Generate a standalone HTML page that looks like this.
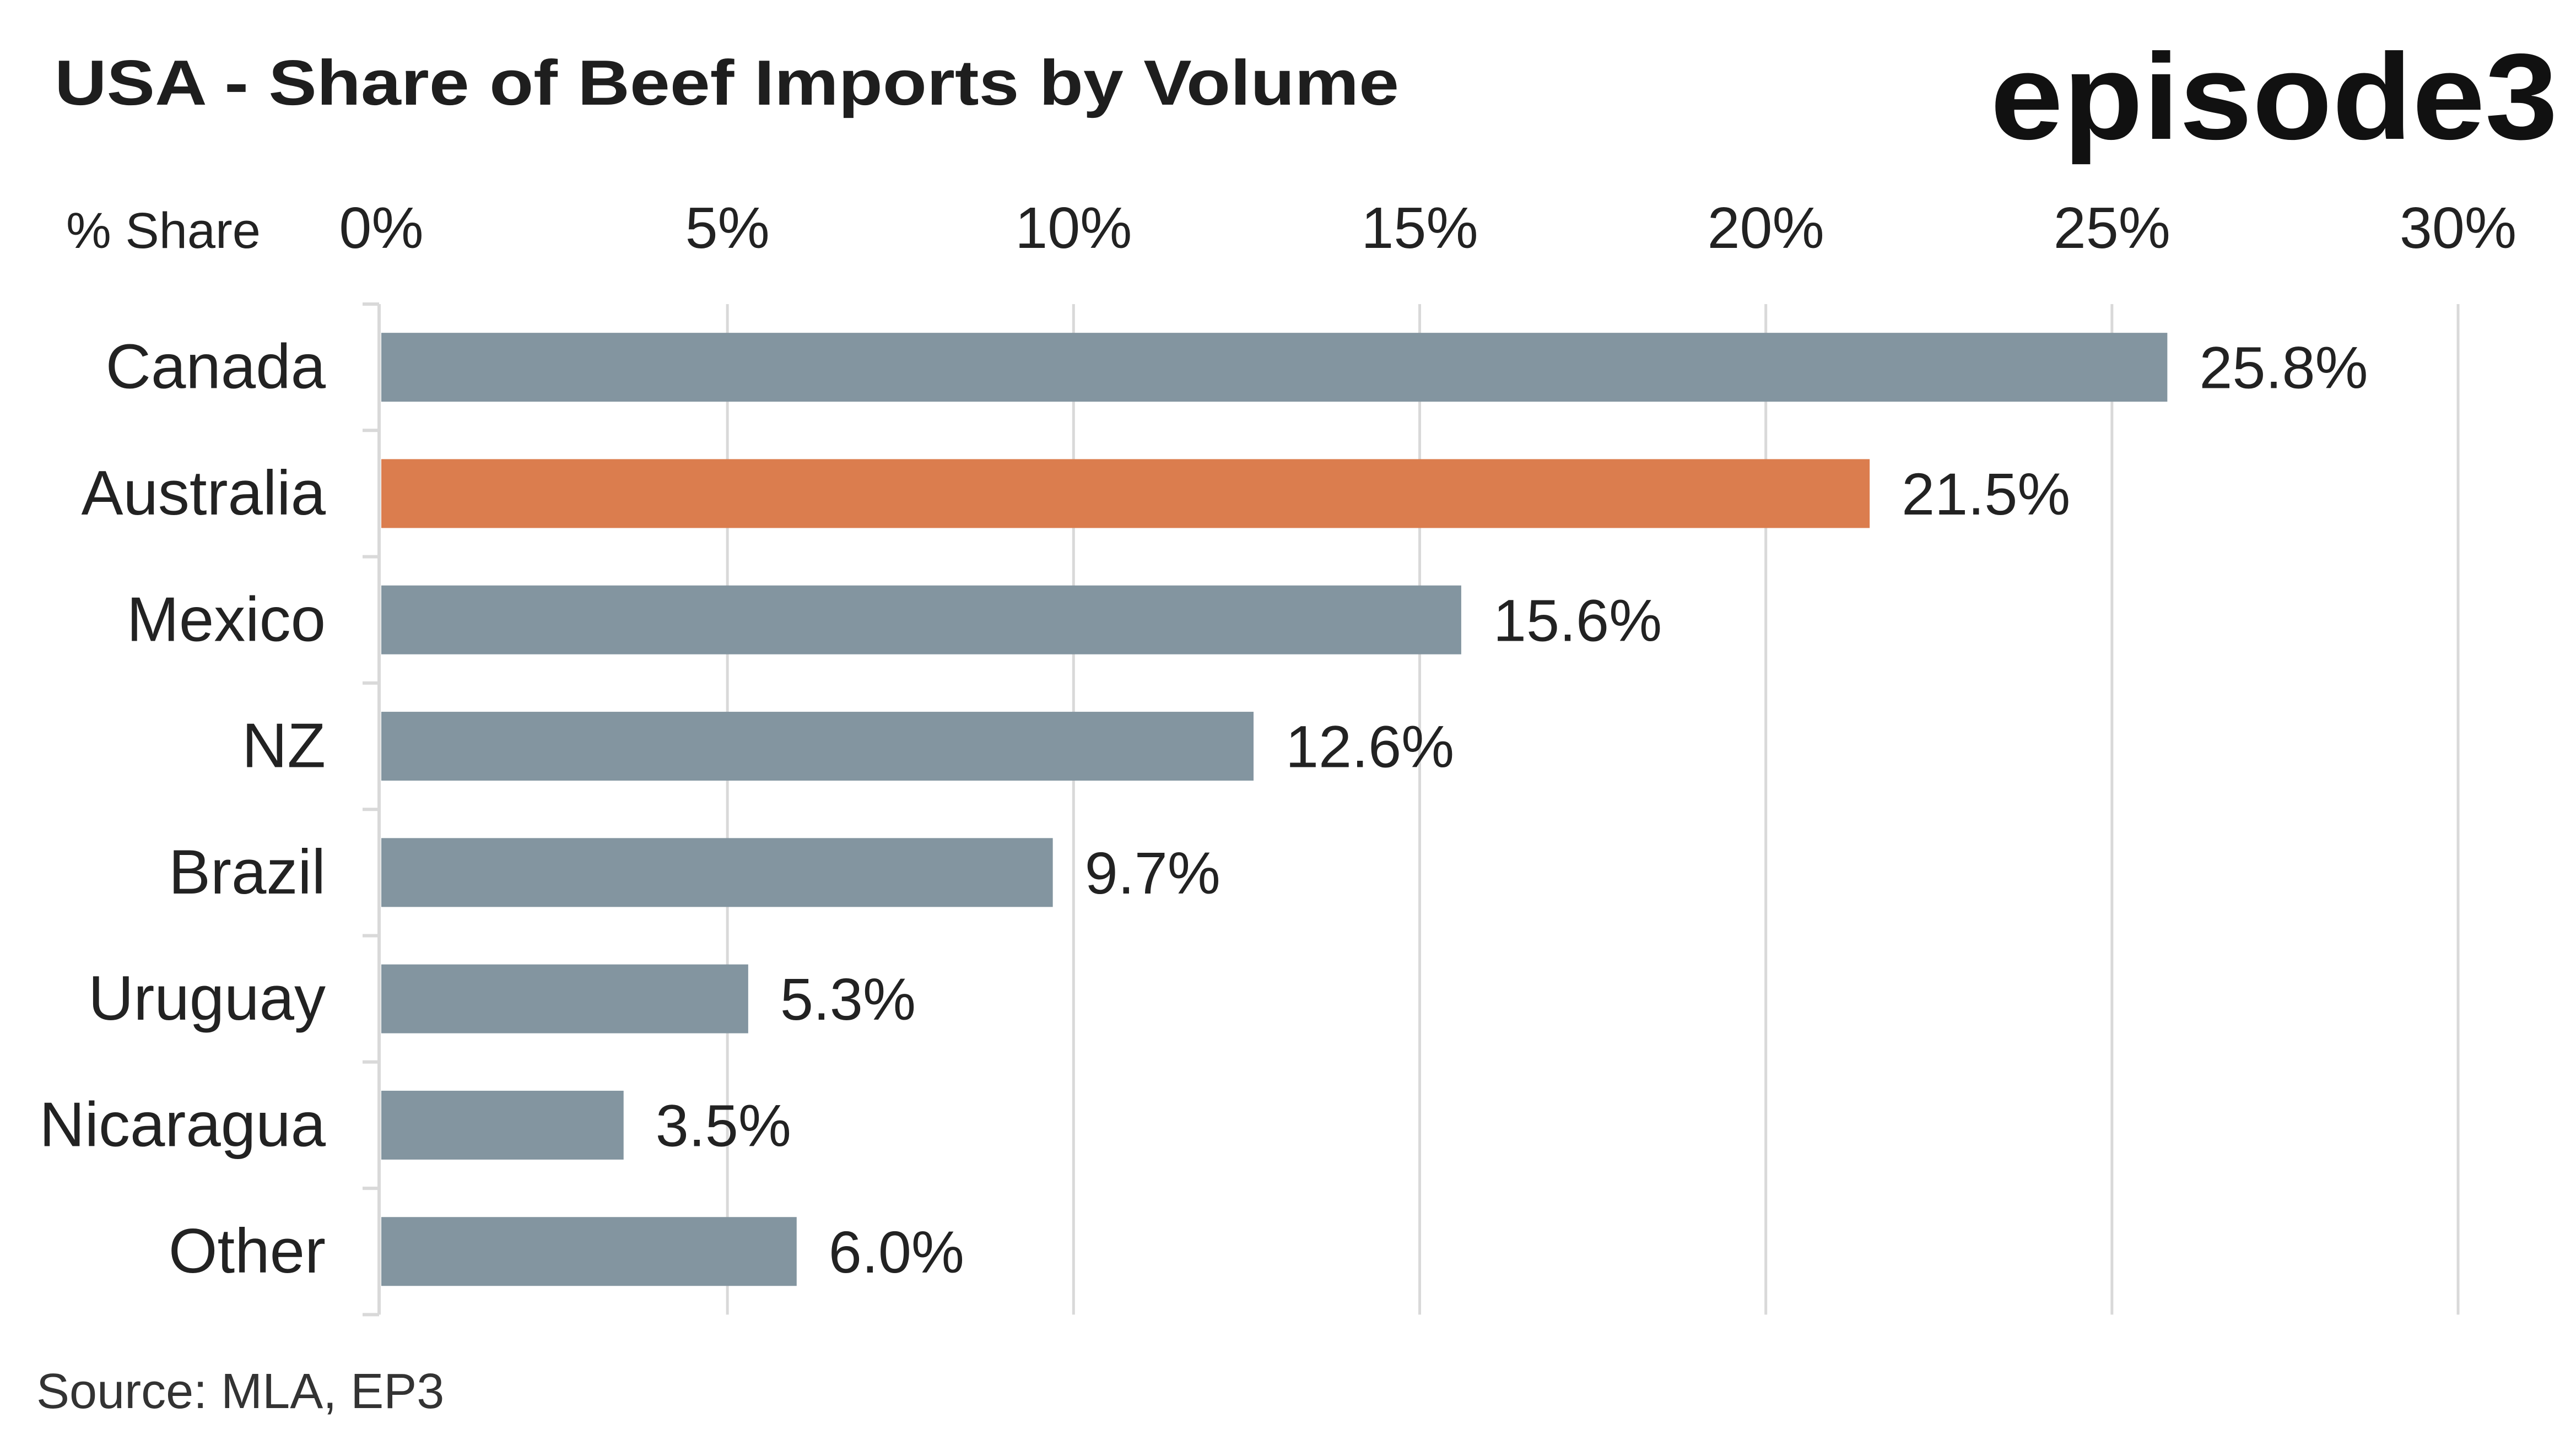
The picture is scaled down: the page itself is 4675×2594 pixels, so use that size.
<!DOCTYPE html>
<html><head><meta charset="utf-8"><style>
html,body{margin:0;padding:0;background:#fff;}
svg{display:block;font-family:"Liberation Sans",sans-serif;}
</style></head><body>
<svg id="chart" width="4675" height="2594" viewBox="0 0 4675 2594">
<text x="99" y="190" font-size="116" font-weight="bold" fill="#1e1e1e" textLength="2440" lengthAdjust="spacingAndGlyphs">USA - Share of Beef Imports by Volume</text>
<text x="3612" y="252" font-size="222" font-weight="bold" fill="#111" textLength="1030" lengthAdjust="spacingAndGlyphs">episode3</text>
<text x="120" y="450" font-size="92" fill="#222">% Share</text>
<g id="grid"></g><g id="bars"></g><g id="labels"></g>
<text x="66" y="2556" font-size="90" fill="#333">Source: MLA, EP3</text>
</svg>
<script>
const categories=["Canada","Australia","Mexico","NZ","Brazil","Uruguay","Nicaragua","Other"];
const values=[25.8,21.5,15.6,12.6,9.7,5.3,3.5,6.0];
const valueLabels=["25.8%","21.5%","15.6%","12.6%","9.7%","5.3%","3.5%","6.0%"];
const ticks=[0,5,10,15,20,25,30];
const tickLabels=["0%","5%","10%","15%","20%","25%","30%"];
const highlight="Australia";
const NS="http://www.w3.org/2000/svg";
const X0=692,X1=4461,TOPY=552,BAND=229.3,BARH=125;
const sx=v=>X0+(v/30)*(X1-X0);
const sy=i=>TOPY+i*BAND;
function mk(t,a,p){const e=document.createElementNS(NS,t);for(const k in a)e.setAttribute(k,a[k]);p.appendChild(e);return e;}
const g=document.getElementById('grid'),b=document.getElementById('bars'),l=document.getElementById('labels');
ticks.forEach((t,i)=>{
 if(i>0){const ln=mk('line',{x1:sx(t),x2:sx(t),y1:TOPY,y2:sy(categories.length),stroke:'#d9d9d9','stroke-width':5},g);
 
 }
 const tx=mk('text',{x:sx(t),y:450,'text-anchor':'middle','font-size':106,fill:'#222'},l);
 tx.textContent=tickLabels[i];
 
 
});
const ax=mk('line',{x1:X0-4,x2:X0-4,y1:TOPY,y2:sy(categories.length),stroke:'#d9d9d9','stroke-width':6},g);


for(let i=0;i<=categories.length;i++){
 const tk=mk('line',{x1:X0-34,x2:X0-4,y1:sy(i),y2:sy(i),stroke:'#d9d9d9','stroke-width':6},g);
 
 
}
categories.forEach((c,i)=>{
 const cy=sy(i)+BAND/2;
 const r=mk('rect',{x:X0,y:cy-BARH/2,width:sx(values[i])-X0,height:BARH,fill:c===highlight?'#db7d4e':'#8395a0'},b);
 
 
 const ct=mk('text',{x:591,y:cy+38,'text-anchor':'end','font-size':114,fill:'#222'},l);
 ct.textContent=c;
 
 
 const vt=mk('text',{x:sx(values[i])+58,y:cy+38,'font-size':108,fill:'#222'},l);
 vt.textContent=valueLabels[i];
 
 
});
</script>
</body></html>
